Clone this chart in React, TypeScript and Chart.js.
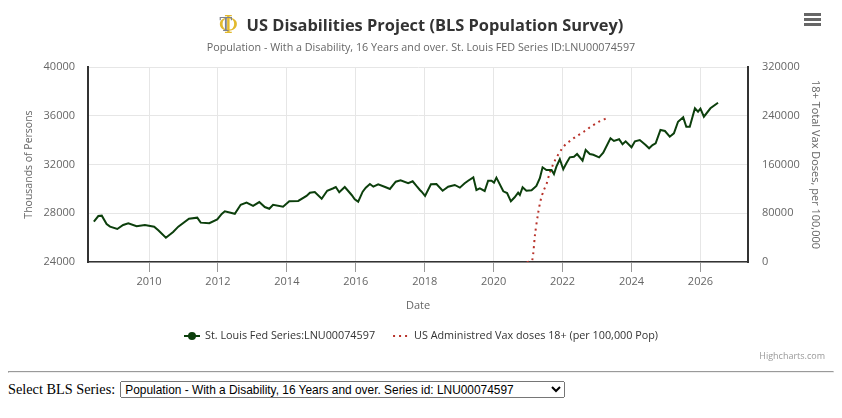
import React, { useEffect, useRef } from "react";
import { Chart, registerables } from "chart.js";

Chart.register(...registerables);

// ---------- data ----------
const seriesLabel = "St. Louis Fed Series:LNU00074597";
const vaxLabel = "US Administred Vax doses 18+ (per 100,000 Pop)";

// decimal-year dates
const disDates = [
  2008.4, 2008.53, 2008.63, 2008.77, 2008.87, 2009.08, 2009.25, 2009.4, 2009.64, 2009.88,
  2010.15, 2010.27, 2010.49, 2010.7, 2010.85, 2011.16, 2011.4, 2011.5, 2011.75, 2011.98,
  2012.11, 2012.2, 2012.49, 2012.66, 2012.83, 2013.02, 2013.2, 2013.36, 2013.49, 2013.6,
  2013.89, 2014.07, 2014.33, 2014.57, 2014.67, 2014.81, 2015.01, 2015.17, 2015.35, 2015.42,
  2015.52, 2015.68, 2015.88, 2015.97, 2016.07, 2016.2, 2016.29, 2016.41, 2016.51, 2016.65,
  2016.87, 2016.99, 2017.16, 2017.3, 2017.52, 2017.65, 2017.76, 2017.86, 2017.91, 2018.01,
  2018.18, 2018.34, 2018.52, 2018.68, 2018.87, 2019.02, 2019.16, 2019.26, 2019.41, 2019.5,
  2019.6, 2019.74, 2019.84, 2019.94, 2020.01, 2020.08, 2020.28, 2020.39, 2020.5, 2020.61,
  2020.71, 2020.76, 2020.84, 2020.95, 2021.1, 2021.24, 2021.34, 2021.42, 2021.53, 2021.68,
  2021.75, 2021.82, 2021.92, 2022.02, 2022.11, 2022.21, 2022.33, 2022.42, 2022.58, 2022.67,
  2022.79, 2022.89, 2023.06, 2023.18, 2023.39, 2023.49, 2023.64, 2023.74, 2023.83, 2024.0,
  2024.1, 2024.24, 2024.41, 2024.51, 2024.61, 2024.7, 2024.84, 2024.97, 2025.11, 2025.23,
  2025.35, 2025.5, 2025.59, 2025.69, 2025.84, 2025.93, 2026.0, 2026.1, 2026.29, 2026.51,
];
const disValues = [
  27310, 27770, 27800, 27120, 26900, 26710, 27040, 27180, 26930, 27040,
  26900, 26600, 25990, 26460, 26900, 27550, 27640, 27230, 27180, 27500,
  27940, 28160, 27960, 28700, 28870, 28600, 28920, 28510, 28370, 28700,
  28540, 28980, 29010, 29420, 29690, 29740, 29190, 29850, 30050, 30150,
  29720, 30150, 29500, 29150, 28950, 29770, 30100, 30400, 30180, 30380,
  30130, 29990, 30590, 30700, 30460, 30620, 30240, 29910, 29770, 29420,
  30380, 30400, 29850, 30180, 30320, 30100, 30460, 30670, 30950, 29910,
  30050, 29830, 30670, 30670, 30510, 30920, 29800, 29660, 28980, 29310,
  29690, 29500, 30130, 29850, 29880, 30240, 30870, 31770, 31550, 31550,
  31220, 31820, 32430, 31610, 32100, 32590, 32640, 32860, 32310, 33190,
  32860, 32800, 32590, 32970, 34150, 33930, 34070, 33660, 33900, 33410,
  33900, 34010, 33600, 33330, 33600, 33740, 34830, 34750, 34280, 34560,
  35510, 35870, 35100, 35100, 36610, 36330, 36580, 35920, 36610, 37070,
];

const vaxDates = [
  2020.96, 2021.04, 2021.12, 2021.2, 2021.29, 2021.37, 2021.45, 2021.54, 2021.62, 2021.71,
  2021.79, 2021.87, 2021.96, 2022.04, 2022.12, 2022.2, 2022.29, 2022.37, 2022.45, 2022.54,
  2022.62, 2022.71, 2022.79, 2022.87, 2022.96, 2023.04, 2023.12, 2023.2, 2023.28,
];
const vaxValues = [
  0, 500, 3000, 45000, 80000, 103000, 117000, 129000, 145000, 158000,
  168000, 176000, 184000, 190000, 195000, 198000, 202000, 205000, 208000, 211000,
  214000, 217000, 221000, 224000, 227000, 230000, 232000, 234000, 236000,
];

const xTickYears = [2010, 2012, 2014, 2016, 2018, 2020, 2022, 2024, 2026];
const X_MIN = 2008.23;
const X_MAX = 2027.38;
const leftMin = 24000;
const leftMax = 40000;
const leftStep = 4000;
const rightMin = 0;
const rightMax = 320000;
const rightStep = 80000;

const FONT = '"Open Sans", sans-serif';
const W = 826;
const H = 356;
const AREA_TOP = 59;
const AREA_BOTTOM = 254;
const AREA_LEFT = 80;
const AREA_RIGHT = 740;
const LEGEND_Y = 328;

const legendPlugin = {
  id: "hcLegend",
  afterDraw(chart: any) {
    const ctx = chart.ctx as CanvasRenderingContext2D;
    const ds = chart.data.datasets;
    ctx.save();
    ctx.font = `10.8px ${FONT}`;
    const symW = 16;
    const gap = 5;
    const spacing = 18;
    const widths = ds.map((d: any) => symW + gap + ctx.measureText(d.label).width);
    const total = widths.reduce((a: number, b: number) => a + b, 0) + spacing * (ds.length - 1);
    let x = (chart.width - total) / 2;
    const y = LEGEND_Y;
    ds.forEach((d: any, i: number) => {
      ctx.strokeStyle = d.borderColor;
      ctx.lineWidth = 2;
      ctx.setLineDash(d.borderDash || []);
      ctx.beginPath();
      ctx.moveTo(x, y);
      ctx.lineTo(x + symW, y);
      ctx.stroke();
      ctx.setLineDash([]);
      if (!d.borderDash) {
        ctx.fillStyle = d.borderColor;
        ctx.beginPath();
        ctx.arc(x + symW / 2, y, 4, 0, Math.PI * 2);
        ctx.fill();
      }
      ctx.fillStyle = "#333333";
      ctx.textBaseline = "middle";
      ctx.textAlign = "left";
      ctx.fillText(d.label, x + symW + gap, y);
      x += widths[i] + spacing;
    });
    ctx.restore();
  },
};

function Logo() {
  return (
    <span
      style={{
        position: "relative",
        display: "inline-block",
        width: 17,
        height: 26,
        verticalAlign: "middle",
        marginRight: 11,
      }}
    >
      <span
        style={{
          position: "absolute",
          left: 0,
          top: -2,
          fontFamily: '"DejaVu Serif", serif',
          fontSize: 24,
          lineHeight: "30px",
          color: "#e2b92e",
        }}
      >
        Φ
      </span>
      <span
        style={{
          position: "absolute",
          left: 1,
          top: -3,
          fontFamily: '"DejaVu Serif", serif',
          fontSize: 19,
          lineHeight: "30px",
          color: "#7d8290",
        }}
      >
        T
      </span>
    </span>
  );
}

export default function App() {
  const canvasRef = useRef<HTMLCanvasElement | null>(null);

  useEffect(() => {
    if (!canvasRef.current) return;
    Chart.defaults.font.family = FONT;
    const chart = new Chart(canvasRef.current, {
      type: "line",
      data: {
        datasets: [
          {
            label: seriesLabel,
            data: disDates.map((d, i) => ({ x: d, y: disValues[i] })),
            borderColor: "#0c3f0c",
            backgroundColor: "#0c3f0c",
            borderWidth: 2,
            pointRadius: 0,
            tension: 0,
            yAxisID: "y",
          },
          {
            label: vaxLabel,
            data: vaxDates.map((d, i) => ({ x: d, y: vaxValues[i] })),
            borderColor: "#b8322a",
            backgroundColor: "#b8322a",
            borderWidth: 2,
            borderDash: [2, 4],
            pointRadius: 0,
            tension: 0.3,
            yAxisID: "y2",
          },
        ],
      },
      options: {
        animation: false,
        responsive: false,
        layout: { padding: { top: AREA_TOP, left: 0, right: 0, bottom: 0 } },
        plugins: {
          legend: { display: false },
          tooltip: { enabled: false },
          title: { display: false },
        },
        scales: {
          x: {
            type: "linear",
            min: X_MIN,
            max: X_MAX,
            afterBuildTicks: (s: any) => {
              s.ticks = xTickYears.map((v) => ({ value: v }));
            },
            afterFit: (s: any) => {
              s.height = H - AREA_BOTTOM;
            },
            grid: { color: "#e6e6e6", tickColor: "#999999", tickLength: 10, drawTicks: true },
            border: { color: "#333333", width: 1.5 },
            ticks: {
              color: "#666666",
              font: { size: 11 },
              padding: 3,
              maxRotation: 0,
              autoSkip: false,
              callback: (v: any) => String(v),
            },
            title: {
              display: true,
              text: "Date",
              color: "#666666",
              font: { size: 11 },
              padding: { top: 0, bottom: 52 },
            },
          },
          y: {
            position: "left",
            min: leftMin,
            max: leftMax,
            afterFit: (s: any) => {
              s.width = AREA_LEFT;
            },
            grid: { color: "#e6e6e6", drawTicks: false },
            border: { color: "#333333", width: 2 },
            ticks: {
              stepSize: leftStep,
              color: "#666666",
              font: { size: 11 },
              padding: 13,
              callback: (v: any) => String(v),
            },
            title: {
              display: true,
              text: "Thousands of Persons",
              color: "#666666",
              font: { size: 10.5 },
              padding: { top: 15, bottom: 0 },
            },
          },
          y2: {
            position: "right",
            min: rightMin,
            max: rightMax,
            afterFit: (s: any) => {
              s.width = W - AREA_RIGHT;
            },
            grid: { drawOnChartArea: false, drawTicks: false },
            border: { color: "#333333", width: 2 },
            ticks: {
              stepSize: rightStep,
              color: "#666666",
              font: { size: 11 },
              padding: 14,
              callback: (v: any) => String(v),
            },
            title: {
              display: true,
              text: "18+ Total Vax Doses, per 100,000",
              color: "#666666",
              font: { size: 11 },
              padding: { top: 12, bottom: 0 },
            },
          },
        },
      },
      plugins: [legendPlugin],
    } as any);
    return () => chart.destroy();
  }, []);

  return (
    <div>
      <div style={{ position: "relative", width: W, height: H, fontFamily: FONT }}>
        <canvas
          ref={canvasRef}
          width={W}
          height={H}
          style={{ position: "absolute", left: 0, top: 0, width: W, height: H }}
        />
        <div
          style={{
            position: "absolute",
            left: 0,
            top: 1,
            width: W,
            textAlign: "center",
            height: 28,
            lineHeight: "28px",
            whiteSpace: "nowrap",
          }}
        >
          <Logo />
          <span style={{ fontSize: 16.4, fontWeight: 700, color: "#333333", verticalAlign: "middle" }}>
            US Disabilities Project (BLS Population Survey)
          </span>
        </div>
        <div
          style={{
            position: "absolute",
            left: 0,
            top: 31,
            width: W,
            textAlign: "center",
            fontSize: 10.75,
            lineHeight: "16px",
            color: "#666666",
            whiteSpace: "nowrap",
          }}
        >
          Population - With a Disability, 16 Years and over. St. Louis FED Series ID:LNU00074597
        </div>
        <div style={{ position: "absolute", left: 796, top: 5, width: 17 }}>
          {[0, 1, 2].map((i) => (
            <div key={i} style={{ height: 3, background: "#666666", marginBottom: 2 }} />
          ))}
        </div>
        <div
          style={{
            position: "absolute",
            right: 9,
            top: 341,
            fontSize: 9,
            color: "#999999",
          }}
        >
          Highcharts.com
        </div>
      </div>
      <hr style={{ margin: "7px 0 8px 0" }} />
      <div
        style={{
          fontFamily: '"Liberation Serif", "Times New Roman", serif',
          fontSize: 14.3,
          display: "flex",
          alignItems: "center",
        }}
      >
        <span>Select BLS Series:</span>
        <select
          style={{
            marginLeft: 5,
            width: 445,
            height: 17,
            fontSize: 11.9,
            fontFamily: '"Liberation Sans", Arial, sans-serif',
            padding: 0,
          }}
          defaultValue="LNU00074597"
        >
          <option value="LNU00074597">
            Population - With a Disability, 16 Years and over. Series id: LNU00074597
          </option>
        </select>
      </div>
    </div>
  );
}
